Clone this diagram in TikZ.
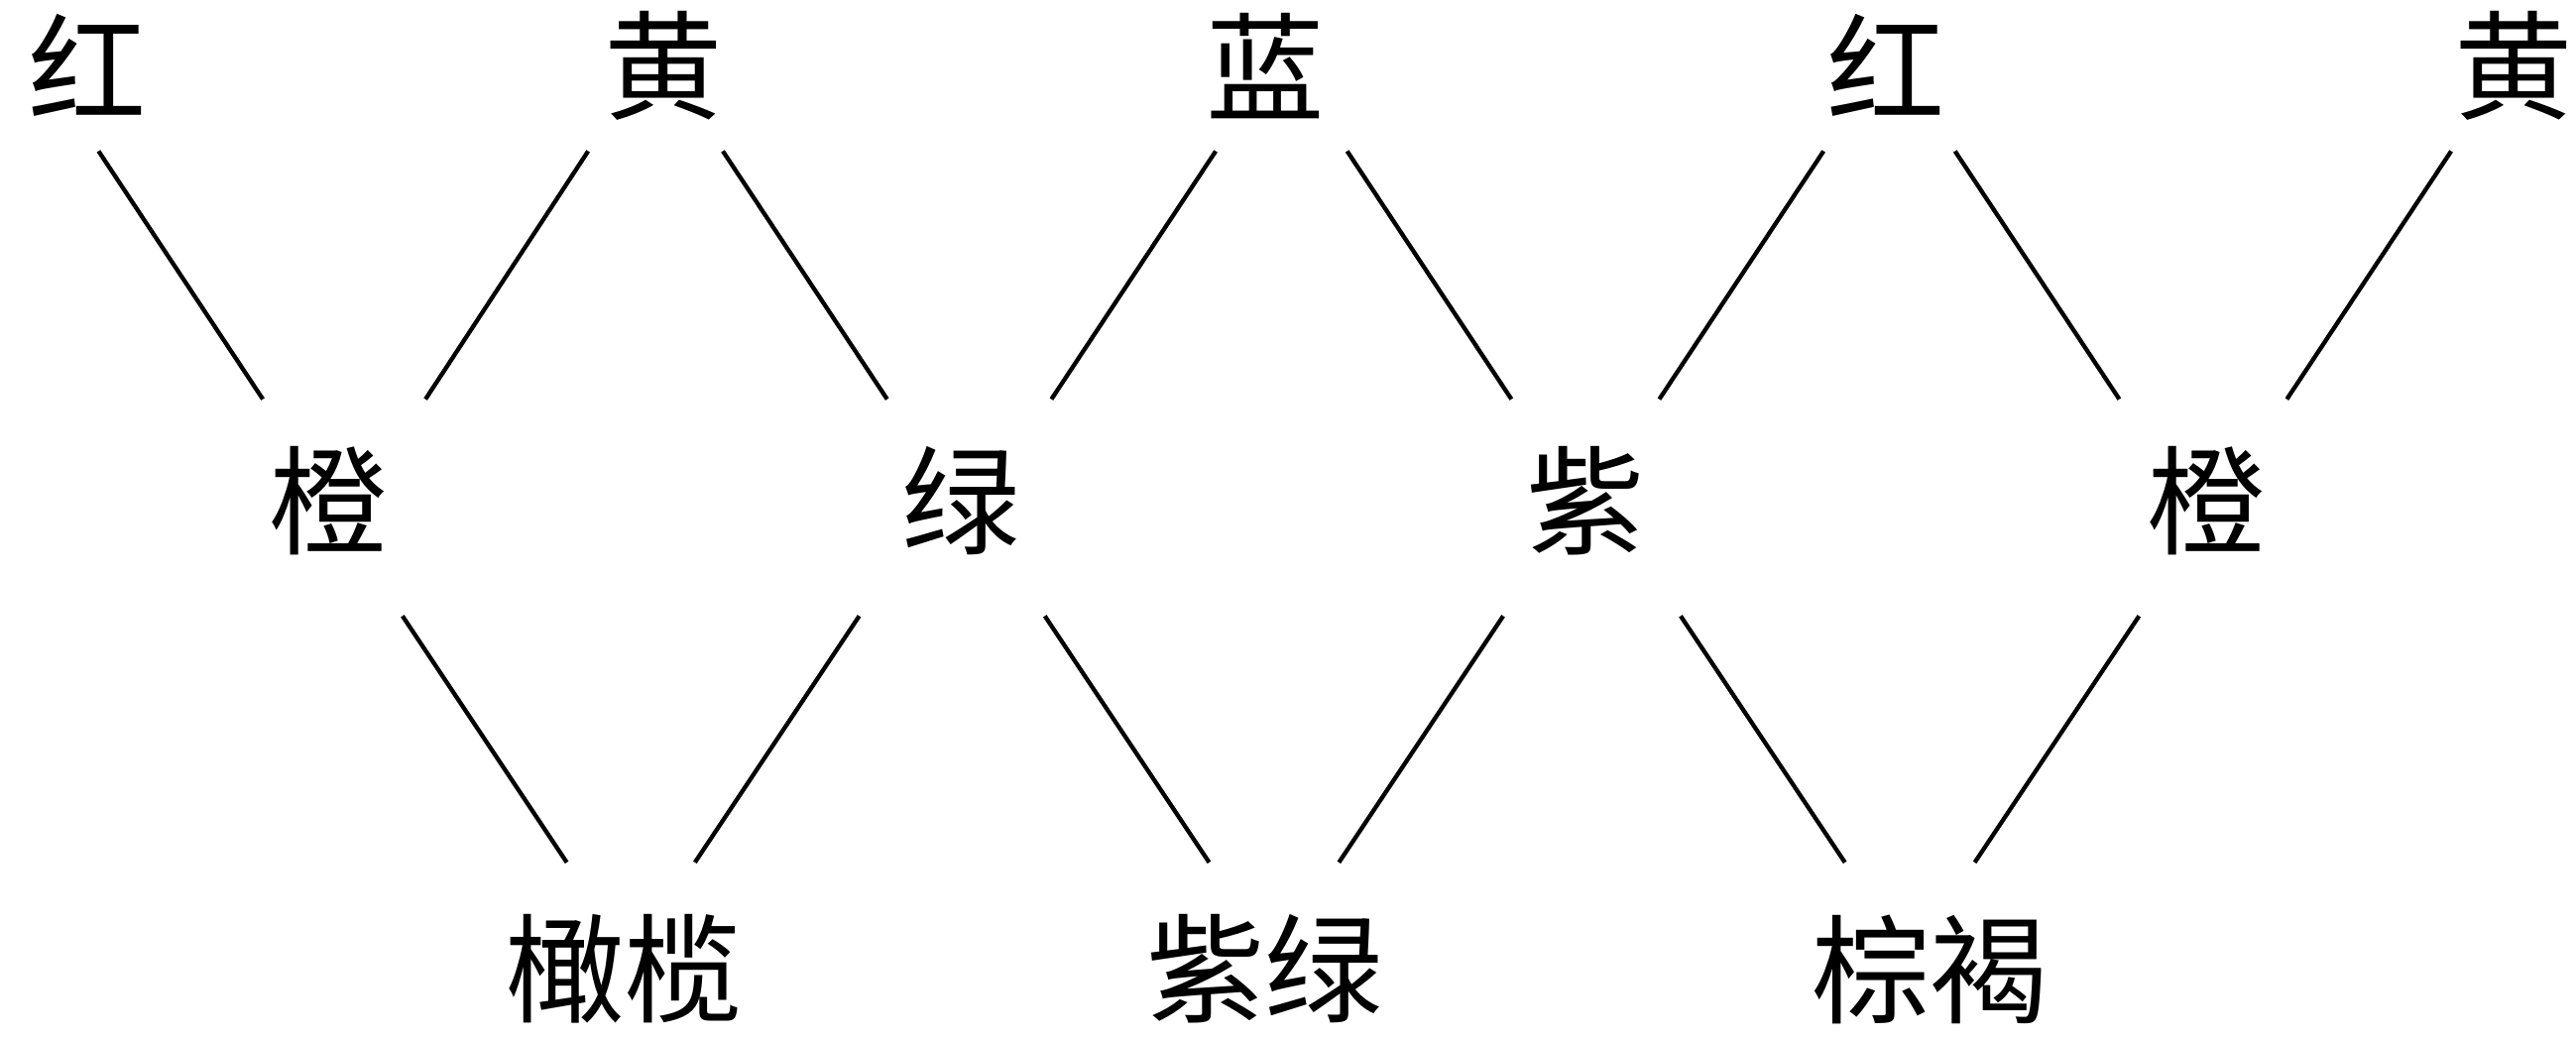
\documentclass[tikz,border=0pt]{standalone}
\usepackage{fontspec}
\newfontfamily\cjk{Noto Sans CJK SC}
\usetikzlibrary{calc}
\begin{document}
\begin{tikzpicture}[x=1pt,y=-1pt,
  lbl/.style={inner sep=0pt,font=\cjk\fontsize{72}{72}\selectfont},
  ln/.style={line width=2.6pt}]
\useasboundingbox (0,0) rectangle (1568,633);
% top row
\node[lbl] (r1) at (53,40) {红};
\node[lbl] (y1) at (404,40) {黄};
\node[lbl] (b)  at (770,40) {蓝};
\node[lbl] (r2) at (1148,40) {红};
\node[lbl] (y2) at (1530,40) {黄};
% middle row
\node[lbl] (o1) at (200,305) {橙};
\node[lbl] (g)  at (585,305) {绿};
\node[lbl] (p)  at (965,305) {紫};
\node[lbl] (o2) at (1343,305) {橙};
% bottom row
\node[lbl] (ol) at (380,590) {橄榄};
\node[lbl] (pg) at (770,590) {紫绿};
\node[lbl] (bt) at (1175,590) {棕褐};
% connectors top -> middle
\draw[ln] ($(r1)+(7,52)$) -- ($(o1)+(-40,-62)$);
\draw[ln] ($(y1)+(-46,52)$) -- ($(o1)+(59,-62)$);
\draw[ln] ($(y1)+(36,52)$) -- ($(g)+(-45,-62)$);
\draw[ln] ($(b)+(-30,52)$) -- ($(g)+(55,-62)$);
\draw[ln] ($(b)+(50,52)$) -- ($(p)+(-45,-62)$);
\draw[ln] ($(r2)+(-38,52)$) -- ($(p)+(45,-62)$);
\draw[ln] ($(r2)+(42,52)$) -- ($(o2)+(-53,-62)$);
\draw[ln] ($(y2)+(-38,52)$) -- ($(o2)+(49,-62)$);
% connectors middle -> bottom
\draw[ln] ($(o1)+(45,70)$) -- ($(ol)+(-35,-65)$);
\draw[ln] ($(g)+(-62,70)$) -- ($(ol)+(43,-65)$);
\draw[ln] ($(g)+(51,70)$) -- ($(pg)+(-34,-65)$);
\draw[ln] ($(p)+(-50,70)$) -- ($(pg)+(45,-65)$);
\draw[ln] ($(p)+(58,70)$) -- ($(bt)+(-52,-65)$);
\draw[ln] ($(o2)+(-41,70)$) -- ($(bt)+(27,-65)$);
\end{tikzpicture}
\end{document}
